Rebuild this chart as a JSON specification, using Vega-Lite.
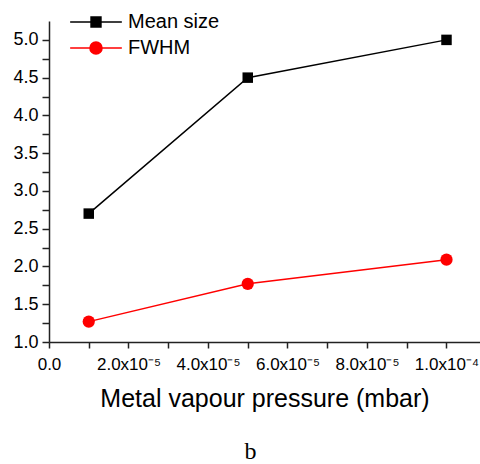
{
  "$schema": "https://vega.github.io/schema/vega-lite/v6.json",
  "width": 431,
  "height": 321,
  "autosize": {"type": "none"},
  "padding": {"left": 49, "top": 21, "right": 0, "bottom": 122},
  "background": "white",
  "title": {
    "text": "b",
    "orient": "bottom",
    "font": "Liberation Serif",
    "fontSize": 24,
    "fontWeight": "normal",
    "color": "black",
    "dx": -14,
    "offset": 29
  },
  "config": {"view": {"stroke": null}, "font": "Liberation Sans"},
  "data": {
    "values": [
      {"p": 1e-5, "v": 2.7, "s": "Mean size"},
      {"p": 5e-5, "v": 4.5, "s": "Mean size"},
      {"p": 1e-4, "v": 5.0, "s": "Mean size"},
      {"p": 1e-5, "v": 1.27, "s": "FWHM"},
      {"p": 5e-5, "v": 1.77, "s": "FWHM"},
      {"p": 1e-4, "v": 2.09, "s": "FWHM"}
    ]
  },
  "encoding": {
    "x": {
      "field": "p",
      "type": "quantitative",
      "scale": {"domain": [0, 0.00010843], "nice": false, "zero": false},
      "axis": {
        "values": [0, 1e-5, 2e-5, 3e-5, 4e-5, 5e-5, 6e-5, 7e-5, 8e-5, 9e-5, 1e-4],
        "labelExpr": "round(datum.value*1e5) % 2 == 1 ? '' : (datum.value == 0 ? '0.0' : (round(datum.value*1e5) == 10 ? '1.0x10⁻⁴' : format(datum.value*1e5, '.1f') + 'x10⁻⁵'))",
        "labelFlush": false,
        "labelOverlap": false,
        "grid": false,
        "domainColor": "#222",
        "domainWidth": 1.5,
        "tickColor": "#222",
        "tickWidth": 1.5,
        "tickSize": 6,
        "labelPadding": 8,
        "labelFont": "Liberation Sans",
        "labelFontSize": 17,
        "labelColor": "black",
        "title": "Metal vapour pressure (mbar)",
        "titleFont": "Liberation Sans",
        "titleFontSize": 25,
        "titleFontWeight": "normal",
        "titleColor": "black",
        "titlePadding": 14,
        "encode": {
          "ticks": {"update": {"y2": {"signal": "round(datum.value*1e5) % 2 == 1 ? 3.5 : 6"}}}
        }
      }
    },
    "y": {
      "field": "v",
      "type": "quantitative",
      "scale": {"domain": [1, 5.25], "nice": false, "zero": false},
      "axis": {
        "values": [1, 1.25, 1.5, 1.75, 2, 2.25, 2.5, 2.75, 3, 3.25, 3.5, 3.75, 4, 4.25, 4.5, 4.75, 5],
        "labelExpr": "round(datum.value*4) % 2 == 1 ? '' : format(datum.value, '.1f')",
        "labelOverlap": false,
        "grid": false,
        "domainColor": "#222",
        "domainWidth": 1.5,
        "tickColor": "#222",
        "tickWidth": 1.5,
        "tickSize": 7,
        "labelPadding": 4,
        "labelFont": "Liberation Sans",
        "labelFontSize": 18,
        "labelColor": "black",
        "title": null,
        "encode": {
          "ticks": {"update": {"x2": {"signal": "round(datum.value*4) % 2 == 1 ? -4 : -7"}}}
        }
      }
    },
    "color": {
      "field": "s",
      "type": "nominal",
      "scale": {"domain": ["Mean size", "FWHM"], "range": ["black", "#ff0000"]},
      "legend": {
        "orient": "none",
        "legendX": 37,
        "legendY": -9,
        "title": null,
        "padding": 0,
        "labelFont": "Liberation Sans",
        "labelFontSize": 20,
        "labelColor": "black",
        "labelOffset": 22,
        "rowPadding": 6,
        "symbolSize": 121,
        "symbolStrokeWidth": 1.5,
        "symbolType": "M-4.7,0H4.7M-0.9,-0.9H0.9V0.9H-0.9Z",
        "encode": {
          "symbols": {
            "update": {
              "shape": {"signal": "datum.value === 'FWHM' ? 'M-4.7,0H4.7M1.1,0A1.1,1.1,0,1,1,-1.1,0A1.1,1.1,0,1,1,1.1,0Z' : 'M-4.7,0H4.7M-0.9,-0.9H0.9V0.9H-0.9Z'"},
              "fill": {"signal": "datum.value === 'FWHM' ? '#ff0000' : 'black'"},
              "stroke": {"signal": "datum.value === 'FWHM' ? '#ff0000' : 'black'"},
              "opacity": {"value": 1}
            }
          }
        }
      }
    }
  },
  "layer": [
    {"mark": {"type": "line", "strokeWidth": 1.5}},
    {
      "transform": [{"filter": "datum.s === 'Mean size'"}],
      "mark": {"type": "point", "shape": "square", "filled": true, "opacity": 1, "size": 110}
    },
    {
      "transform": [{"filter": "datum.s === 'FWHM'"}],
      "mark": {"type": "point", "shape": "circle", "filled": true, "opacity": 1, "size": 150}
    }
  ]
}
